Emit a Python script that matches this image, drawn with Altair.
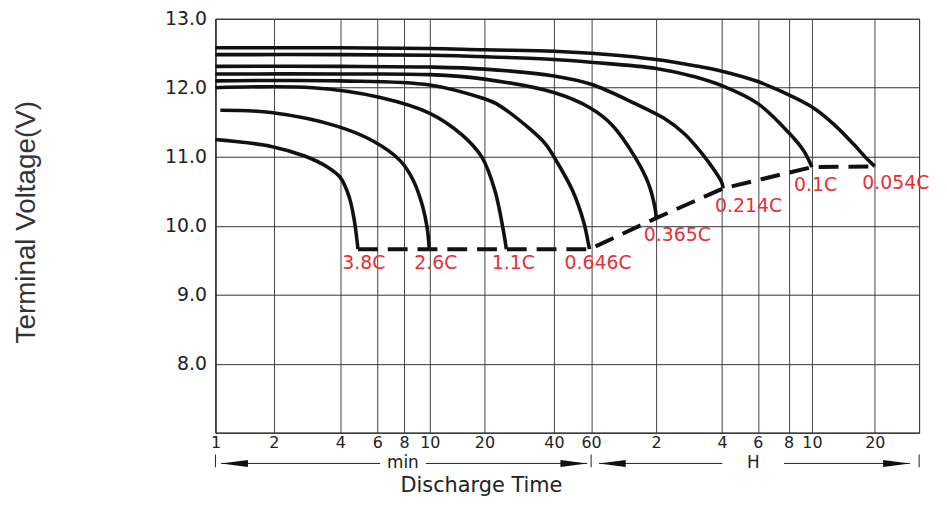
import altair as alt
import pandas as pd

# ---------------- data (time in minutes, terminal voltage in V) ----------------
SERIES = ["0.054C", "0.1C", "0.214C", "0.365C", "0.646C", "1.1C", "2.6C", "3.8C"]

T_0054 = [1, 4, 10, 20, 40, 60, 120, 180, 240, 360, 446, 600, 764, 951, 1100, 1200]
V_0054 = [12.58, 12.58, 12.57, 12.55, 12.53, 12.50, 12.41, 12.32, 12.24, 12.09, 11.95, 11.72, 11.47, 11.18, 10.97, 10.86]

T_01 = [1, 4, 10, 20, 40, 60, 120, 180, 240, 360, 480, 556, 600]
V_01 = [12.48, 12.48, 12.47, 12.45, 12.41, 12.37, 12.28, 12.16, 12.03, 11.77, 11.35, 11.08, 10.85]

T_0214 = [1, 4, 10, 20, 40, 60, 96, 130, 162, 193, 222, 240, 243]
V_0214 = [12.31, 12.31, 12.30, 12.27, 12.17, 12.05, 11.77, 11.56, 11.33, 11.06, 10.80, 10.62, 10.54]

T_0365 = [1, 4, 10, 20, 40, 60, 75, 96, 110.6, 119, 120]
V_0365 = [12.20, 12.20, 12.19, 12.125, 11.93, 11.70, 11.46, 10.99, 10.61, 10.23, 10.11]

T_0646 = [1, 4, 10, 20, 22.5, 31.3, 36.9, 40, 49, 55.5, 58.5, 59]
V_0646 = [12.10, 12.10, 12.04, 11.84, 11.77, 11.41, 11.18, 11.0, 10.51, 10.04, 9.71, 9.66]

T_11 = [1, 3, 6.2, 10, 15, 19.4, 22.2, 24.1, 24.9]
V_11 = [12.0, 12.0, 11.86, 11.63, 11.32, 10.99, 10.51, 9.95, 9.66]

T_26 = [1.06, 1.94, 3.89, 5.79, 7.69, 8.66, 9.4, 9.79, 9.95]
V_26 = [11.675, 11.64, 11.44, 11.22, 10.94, 10.66, 10.28, 9.95, 9.66]

T_38 = [1.0, 1.94, 2.76, 3.5, 4.0, 4.41, 4.66, 4.86]
V_38 = [11.25, 11.15, 11.01, 10.85, 10.70, 10.42, 10.09, 9.66]

# cut-off (end of discharge) line
T_CUT = [4.86, 59, 120, 243, 600, 1200]
V_CUT = [9.66, 9.66, 10.11, 10.54, 10.85, 10.86]

# rate labels
LABEL_T = [5.18, 10.8, 26.7, 64.6, 150, 324, 625, 1511]
LABEL_V = [9.46, 9.46, 9.46, 9.46, 9.87, 10.29, 10.595, 10.62]
LABEL_TXT = ["3.8C", "2.6C", "1.1C", "0.646C", "0.365C", "0.214C", "0.1C", "0.054C"]

# axes
X_TICKS = [1, 2, 4, 6, 8, 10, 20, 40, 60, 120, 240, 360, 480, 600, 1200]
Y_TICKS = [8, 9, 10, 11, 12, 13]
X_DOMAIN = [1, 2, 4, 6, 8, 10, 20, 40, 60, 120, 240, 360, 480, 600, 1200, 1950]
X_RANGE = [0, 58.7, 125.7, 163, 190, 216, 271, 341, 378.5, 444, 510.3, 546.5, 577.5, 601, 664.3, 709]

# min / H annotation row below the axis
SEG_T1 = [1.07, 9.66, 65.2, 460]
SEG_T2 = [6.19, 57.5, 241, 1763]
BAR_T = [1, 60, 1950]
ARROW_L_T = [1.07, 65.2]
ARROW_R_T = [57.5, 1763]
UNIT_T = [7.9, 342]
UNIT_TXT = ["min", "H"]

Y_TITLE = "Terminal Voltage(V)"
X_TITLE = "Discharge Time"

FONT = "DejaVu Sans"
RED = "#e5303a"
INK = "#111111"

# ---------------- tables ----------------
series_t = [T_0054, T_01, T_0214, T_0365, T_0646, T_11, T_26, T_38]
series_v = [V_0054, V_01, V_0214, V_0365, V_0646, V_11, V_26, V_38]
rows = []
for name, ts, vs in zip(SERIES, series_t, series_v):
    for i, (t, v) in enumerate(zip(ts, vs)):
        rows.append({"series": name, "t": t, "v": v, "o": i})
curve_df = pd.DataFrame(rows)
cut_df = pd.DataFrame({"t": T_CUT, "v": V_CUT, "o": list(range(len(T_CUT)))})
label_df = pd.DataFrame({"t": LABEL_T, "v": LABEL_V, "lab": LABEL_TXT})
seg_df = pd.DataFrame({"t": SEG_T1, "t2": SEG_T2})
bar_df = pd.DataFrame({"t": BAR_T})
arl_df = pd.DataFrame({"t": ARROW_L_T})
arr_df = pd.DataFrame({"t": ARROW_R_T})
unit_df = pd.DataFrame({"t": UNIT_T, "lab": UNIT_TXT})
ytitle_df = pd.DataFrame({"lab": [Y_TITLE]})
xtitle_df = pd.DataFrame({"lab": [X_TITLE]})

XSCALE = alt.Scale(type="log", domain=X_DOMAIN, range=X_RANGE, nice=False)
YSCALE = alt.Scale(domain=[7, 13], nice=False, zero=False)

x_axis = alt.Axis(
    values=X_TICKS,
    labelExpr="datum.value >= 120 ? datum.value / 60 : datum.value",
    title=None, ticks=False, grid=True, domain=True,
    gridColor="#444444", gridWidth=1, domainColor="#222222", domainWidth=1,
    labelFont=FONT, labelFontSize=16, labelColor="#222222", labelPadding=2,
    labelFlush=False, labelOverlap=False,
)
y_axis = alt.Axis(
    values=Y_TICKS, format=".1f",
    title=None, ticks=False, grid=True, domain=True,
    gridColor="#333333", gridWidth=1, domainColor="#222222", domainWidth=1,
    labelFont=FONT, labelFontSize=19, labelColor="#222222", labelPadding=9,
    labelFlush=False, labelOverlap=False,
)


def X():
    return alt.X("t:Q", scale=XSCALE, axis=x_axis)


def Y():
    return alt.Y("v:Q", scale=YSCALE, axis=y_axis)


curves = alt.Chart(curve_df).mark_line(
    color=INK, strokeWidth=3.6, interpolate="catmull-rom"
).encode(x=X(), y=Y(), detail="series:N", order="o:Q")

cut = alt.Chart(cut_df).mark_line(
    color=INK, strokeWidth=4, strokeDash=[20, 10]
).encode(x=X(), y=Y(), order="o:Q")

labels = alt.Chart(label_df).mark_text(
    color=RED, font=FONT, fontSize=19, align="center", baseline="middle"
).encode(x=X(), y=Y(), text="lab:N")

segs = alt.Chart(seg_df).mark_rule(color="#222222", strokeWidth=1).encode(
    x=X(), x2="t2:Q", y=alt.value(448)
)

bars = alt.Chart(bar_df).mark_rule(color="#222222", strokeWidth=1).encode(
    x=X(), y=alt.value(439), y2=alt.value(452)
)

arrows_l = alt.Chart(arl_df).mark_point(
    shape="M0,0L2,-0.26L2,0.26Z", size=729, filled=True, color=INK, opacity=1, strokeWidth=0
).encode(x=X(), y=alt.value(448))

arrows_r = alt.Chart(arr_df).mark_point(
    shape="M0,0L-2,-0.26L-2,0.26Z", size=729, filled=True, color=INK, opacity=1, strokeWidth=0
).encode(x=X(), y=alt.value(448))

units = alt.Chart(unit_df).mark_text(
    font=FONT, fontSize=17, color="#222222", align="center", baseline="middle"
).encode(x=X(), y=alt.value(448), text="lab:N")

ytitle = alt.Chart(ytitle_df).mark_text(
    font="Liberation Sans", fontSize=28, color="#333333", angle=270,
    align="center", baseline="middle"
).encode(x=alt.value(-190), y=alt.value(205), text="lab:N")

xtitle = alt.Chart(xtitle_df).mark_text(
    font=FONT, fontSize=21, color="#222222", align="center", baseline="middle"
).encode(x=alt.value(268), y=alt.value(471), text="lab:N")

chart = alt.layer(
    curves, cut, labels, segs, bars, arrows_l, arrows_r, units, ytitle, xtitle
).properties(
    width=709,
    height=417,
    autosize=alt.AutoSizeParams(type="none"),
    padding={"left": 209, "top": 9, "right": 20, "bottom": 66},
    background="white",
).configure_view(
    stroke="#222222", strokeWidth=1
)

chart.save("out.html", embed_options={"renderer": "svg", "actions": False})
